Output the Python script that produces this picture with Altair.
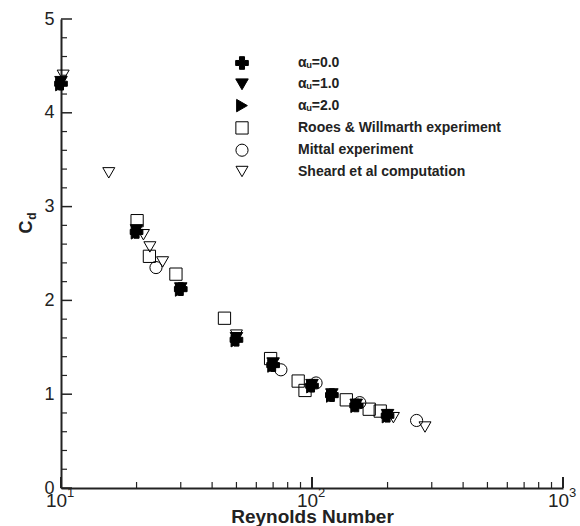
import altair as alt
import pandas as pd

# ---------------- data ----------------
series_names = ["αᵤ=0.0", "αᵤ=1.0", "αᵤ=2.0",
                "Rooes & Willmarth experiment", "Mittal experiment",
                "Sheard et al computation"]
series_shapes = ["cross", "triangle-down", "triangle-right", "square", "circle", "triangle-down"]
series_fills = ["black", "black", "black", "transparent", "transparent", "transparent"]
series_strokes = ["black"] * 6
series_sizes = [160, 144, 121, 100, 196, 160]

re_alpha = [10, 20, 30, 50, 70, 100, 120, 150, 200]
cd_alpha0 = [4.31, 2.73, 2.12, 1.58, 1.31, 1.09, 0.99, 0.88, 0.77]
cd_alpha1 = [4.33, 2.75, 2.13, 1.60, 1.33, 1.10, 1.00, 0.89, 0.78]
cd_alpha2 = [4.30, 2.72, 2.11, 1.57, 1.30, 1.08, 0.98, 0.87, 0.76]

re_rooes = [20.1, 22.5, 28.7, 44.8, 68.4, 88.1, 93.8, 137, 169, 187]
cd_rooes = [2.85, 2.47, 2.28, 1.81, 1.38, 1.14, 1.04, 0.94, 0.84, 0.82]

re_mittal = [23.9, 75.2, 103.8, 155, 261]
cd_mittal = [2.35, 1.26, 1.12, 0.91, 0.72]

re_sheard = [10.2, 15.5, 21.3, 22.6, 25.4, 50, 211, 282]
cd_sheard = [4.40, 3.36, 2.70, 2.57, 2.41, 1.63, 0.75, 0.65]

x_major = [10, 100, 1000]
x_exponents = ["1", "2", "3"]
x_minor = [20, 30, 40, 50, 60, 70, 80, 90, 200, 300, 400, 500, 600, 700, 800, 900]
y_major = [0, 1, 2, 3, 4, 5]
y_minor = [0.2, 0.4, 0.6, 0.8, 1.2, 1.4, 1.6, 1.8, 2.2, 2.4, 2.6, 2.8,
           3.2, 3.4, 3.6, 3.8, 4.2, 4.4, 4.6, 4.8]

# draw order: filled triangles, open symbols, then plus on top
order = [(2, re_alpha, cd_alpha2), (1, re_alpha, cd_alpha1),
         (3, re_rooes, cd_rooes), (4, re_mittal, cd_mittal),
         (5, re_sheard, cd_sheard), (0, re_alpha, cd_alpha0)]
rows = []
for idx, xs, ys in order:
    for x, y in zip(xs, ys):
        rows.append({"series": series_names[idx], "Re": x, "Cd": y})
df = pd.DataFrame(rows)

W, H = 502, 469
FONT = "Liberation Sans"
INK = "#222222"

xscale = alt.Scale(type="log", domain=[10, 1000])
yscale = alt.Scale(domain=[0, 5])

xaxis = alt.Axis(values=x_major, labelExpr="'10'", ticks=False, tickSize=0,
                 grid=False, domainWidth=2, domainColor=INK,
                 labelFont=FONT, labelFontSize=19, labelColor=INK,
                 labelPadding=3, labelOffset=-5, labelFlush=False,
                 title="Reynolds Number", titleFont=FONT,
                 titleFontSize=19, titleFontWeight="bold",
                 titleColor=INK, titlePadding=-3)
yaxis = alt.Axis(values=y_major, ticks=False, tickSize=0, grid=False,
                 domainWidth=2, domainColor=INK, labelFont=FONT,
                 labelFontSize=18, labelColor=INK, labelPadding=7,
                 labelFlush=False, title=None)

legend = alt.Legend(orient="none", legendX=174, legendY=37, title=None,
                    labelFont=FONT, labelFontSize=14, labelFontWeight="bold",
                    labelColor=INK, labelOffset=49, labelLimit=0, rowPadding=4.3,
                    padding=0, symbolStrokeWidth=1)

points = alt.Chart(df).mark_point(filled=True, opacity=1, strokeWidth=1).encode(
    x=alt.X("Re:Q", scale=xscale, axis=xaxis),
    y=alt.Y("Cd:Q", scale=yscale, axis=yaxis),
    shape=alt.Shape("series:N", scale=alt.Scale(domain=series_names, range=series_shapes),
                    legend=legend),
    fill=alt.Fill("series:N", scale=alt.Scale(domain=series_names, range=series_fills),
                  legend=legend),
    stroke=alt.Stroke("series:N", scale=alt.Scale(domain=series_names, range=series_strokes),
                      legend=legend),
    size=alt.Size("series:N", scale=alt.Scale(domain=series_names, range=series_sizes),
                  legend=legend),
)

ymaj = alt.Chart(pd.DataFrame({"v": y_major})).mark_rule(color=INK, strokeWidth=1.5).encode(
    y=alt.Y("v:Q", scale=yscale, axis=yaxis), x=alt.value(0), x2=alt.value(11))
ymin = alt.Chart(pd.DataFrame({"v": y_minor})).mark_rule(color=INK, strokeWidth=1.2).encode(
    y=alt.Y("v:Q", scale=yscale, axis=yaxis), x=alt.value(0), x2=alt.value(6))
xmaj = alt.Chart(pd.DataFrame({"v": x_major})).mark_rule(color=INK, strokeWidth=2).encode(
    x=alt.X("v:Q", scale=xscale, axis=xaxis), y=alt.value(H), y2=alt.value(H - 11))
xmin = alt.Chart(pd.DataFrame({"v": x_minor})).mark_rule(color=INK, strokeWidth=1.2).encode(
    x=alt.X("v:Q", scale=xscale, axis=xaxis), y=alt.value(H), y2=alt.value(H - 6))

sups = alt.Chart(pd.DataFrame({"v": x_major, "e": x_exponents})).mark_text(
    font=FONT, fontSize=13, color=INK, align="left", baseline="alphabetic", dx=6).encode(
    x=alt.X("v:Q", scale=xscale, axis=xaxis), y=alt.value(H + 9), text="e:N")

ttl_c = alt.Chart(pd.DataFrame({"t": ["C"]})).mark_text(
    font=FONT, fontSize=18, fontWeight="bold", color=INK, angle=270,
    align="center", baseline="middle").encode(
    x=alt.value(-34), y=alt.value(208), text="t:N")
ttl_d = alt.Chart(pd.DataFrame({"t": ["d"]})).mark_text(
    font=FONT, fontSize=12, fontWeight="bold", color=INK, angle=270,
    align="center", baseline="middle").encode(
    x=alt.value(-29), y=alt.value(197), text="t:N")

chart = alt.layer(points, ymin, ymaj, xmin, xmaj, sups, ttl_c, ttl_d).properties(
    width=W, height=H,
    autosize=alt.AutoSizeParams(type="none"),
    padding={"left": 61, "top": 19, "right": 17, "bottom": 38},
).configure_view(stroke=None).configure_axis(grid=False)

chart.save("out.html", embed_options={"renderer": "svg", "actions": False})
